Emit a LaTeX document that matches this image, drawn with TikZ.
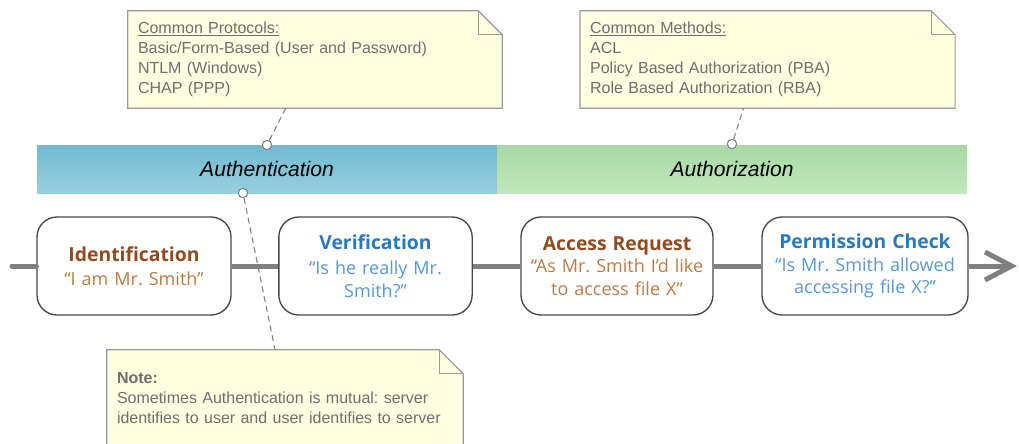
\documentclass[tikz,border=0pt]{standalone}
\usepackage{fontspec}
\setmainfont{Liberation Sans}
\newfontfamily\boxfont{Open Sans}
\usepackage{tikz}
\usetikzlibrary{positioning,arrows.meta}
\frenchspacing
\definecolor{cline}{HTML}{808080}
\definecolor{cnote}{HTML}{FFFFE1}
\definecolor{cnotedraw}{HTML}{9A9A9A}
\definecolor{cnotetext}{HTML}{6E6E6E}
\definecolor{cbrown}{HTML}{934A1C}
\definecolor{cbrownlt}{HTML}{C07A40}
\definecolor{cblue}{HTML}{2479C9}
\definecolor{cbluelt}{HTML}{5598DD}
\definecolor{cauthtop}{HTML}{70BAD0}
\definecolor{cauthbot}{HTML}{98CFDE}
\definecolor{cpermtop}{HTML}{A6D9A4}
\definecolor{cpermbot}{HTML}{C2E7BD}
\tikzset{
  notebox/.style={minimum height=72.75pt, inner xsep=7.5pt, align=left,
    text=cnotetext, font=\fontsize{12}{15}\selectfont},
  stepbox/.style={rounded corners=15pt, draw=black!72, line width=1pt,
    fill=white, align=center, minimum height=73.5pt, inner sep=2pt,
    font=\boxfont\fontsize{13.5}{17}\selectfont},
  bandbox/.style={minimum height=36pt, font=\fontsize{15.8}{18}\selectfont\itshape},
  pin/.style={circle, draw=cline, fill=white, line width=0.8pt,
    inner sep=0pt, minimum size=7pt},
  notelink/.style={draw=cline, line width=0.8pt, dash pattern=on 4.5pt off 3pt},
  flowline/.style={line width=3.75pt, draw=cline},
}
% note outline with a folded corner
\newcommand{\foldnote}[1]{%
  \draw[fill=cnote, draw=cnotedraw, line width=0.9pt]
    (#1.north west) -- ([xshift=-18pt]#1.north east)
    -- ([yshift=-18pt]#1.north east) -- (#1.south east)
    -- (#1.south west) -- cycle;
  \draw[draw=cnotedraw, line width=0.9pt]
    ([xshift=-18pt]#1.north east) |- ([yshift=-18pt]#1.north east);
}
\newcommand{\boxtitle}[2]{{\bfseries\fontsize{14.5}{17}\selectfont\color{#1}#2}}
\newcommand{\boxsub}[2]{{\color{#1}#2}}

\begin{document}
\begin{tikzpicture}[x=0.75pt, y=-0.75pt]
  \useasboundingbox (0,0) rectangle (1019,443);

  % phases
  \node[bandbox, minimum width=345pt, top color=cauthtop, bottom color=cauthbot]
    (authn) at (267,169) {Authentication};
  \node[bandbox, minimum width=352.5pt, top color=cpermtop, bottom color=cpermbot]
    (authz) at (732,169) {Authorization};

  % notes
  \node[notebox, text width=265.5pt] (protocols) at (315,59.5) {};
  \foldnote{protocols}
  \node[notebox, text width=265.5pt] at (protocols) {\underline{Common Protocols:}\\
    Basic/Form-Based (User and Password)\\NTLM (Windows)\\CHAP (PPP)};
  \node[notebox, text width=266pt] (methods) at (767.5,59.5) {};
  \foldnote{methods}
  \node[notebox, text width=266pt] at (methods) {\underline{Common Methods:}\\
    ACL\\Policy Based Authorization (PBA)\\Role Based Authorization (RBA)};
  \node[notebox, text width=252pt, minimum height=72pt] (mutual) at (285,398) {};
  \foldnote{mutual}
  \node[notebox, text width=252pt, inner xsep=8pt] at (mutual) {\textbf{Note:}\\
    Sometimes Authentication is mutual: server\\identifies to user and user identifies to server};

  % flow
  \coordinate (start) at (12,266);
  \coordinate (finish) at (1017,266);
  \node[stepbox, minimum width=145.5pt, text width=141.5pt] (ident) at (134,266)
    {\boxtitle{cbrown}{Identification}\\[1pt]\boxsub{cbrownlt}{“I am Mr. Smith”}};
  \node[stepbox, minimum width=145pt, text width=141pt] (verif) at (375.5,266)
    {\boxtitle{cblue}{Verification}\\[2pt]\boxsub{cbluelt}{“Is he really Mr.\\Smith?”}};
  \node[stepbox, minimum width=144pt, text width=140pt] (access) at (617,266)
    {\boxtitle{cbrown}{Access Request}\\[0pt]\boxsub{cbrownlt}{“As Mr. Smith I’d like\\to access file X”}};
  \node[stepbox, minimum width=154.5pt, text width=150.5pt] (perm) at (865,266)
    {\boxtitle{cblue}{Permission Check}\\[0pt]\boxsub{cbluelt}{“Is Mr. Smith allowed\\accessing file X?”}};

  \draw[flowline, line cap=round] (start) -- (ident);
  \draw[flowline] (ident) -- (verif);
  \draw[flowline] (verif) -- (access);
  \draw[flowline] (access) -- (perm);
  \draw[flowline, -{Straight Barb[length=20pt, width=21pt]}] (perm) -- (finish);

  % pins and links
  \node[pin] (pinA) at (267,145) {};
  \node[pin] (pinB) at (732,144) {};
  \node[pin] (pinC) at (243,193) {};
  \draw[notelink] (pinA) -- ([xshift=-22pt]protocols.south);
  \draw[notelink] (pinB) -- ([xshift=-18pt]methods.south);
  \draw[notelink] (pinC) -- ([xshift=-7.5pt]mutual.north);
\end{tikzpicture}
\end{document}
